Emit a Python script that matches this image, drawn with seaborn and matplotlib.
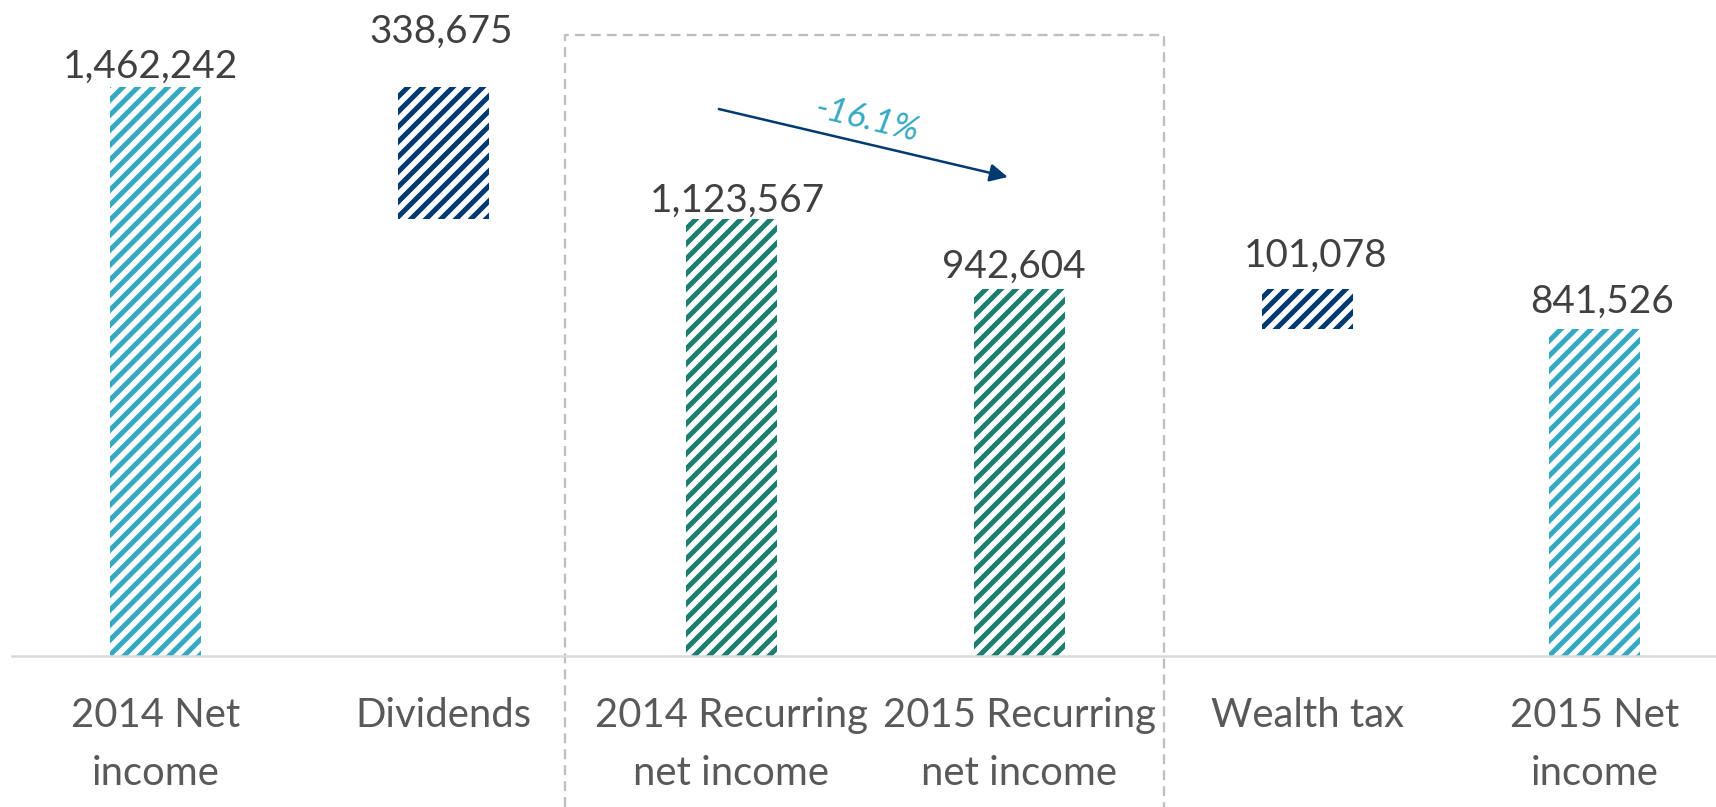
import matplotlib
matplotlib.use("Agg")
import matplotlib.pyplot as plt
import matplotlib.transforms as mtransforms
import pandas as pd
import seaborn as sns

# ==========================================================
# Data
# ==========================================================

categories = [
    "2014 Net\nincome",
    "Dividends",
    "2014 Recurring\nnet income",
    "2015 Recurring\nnet income",
    "Wealth tax",
    "2015 Net\nincome",
]
values = [1462242, 338675, 1123567, 942604, 101078, 841526]
bases = [0, 1123567, 0, 0, 841526, 0]
change_label = "-16.1%"

# ==========================================================
# Style
# ==========================================================

DPI = 90
LIGHT_BLUE = "#36A9C2"
NAVY = "#003A70"
GREEN = "#1B7E6E"
bar_colors = [LIGHT_BLUE, NAVY, GREEN, GREEN, NAVY, LIGHT_BLUE]

# label offsets in pixels (dx, gap above bar top) to match the original layout
label_dx_px = [-5, -3, 6, -5, 8, 7]
label_gap_px = [10, 45, 7, 12, 23, 16]

Y_MAX = 1686700

sns.set_theme(style="white")
plt.rcParams["font.family"] = ["Lato", "DejaVu Sans"]
plt.rcParams["hatch.linewidth"] = 4.0

fig = plt.figure(figsize=(1716 / DPI, 807 / DPI), dpi=DPI)
fig.patch.set_facecolor("white")
ax = fig.add_axes([12 / 1716, 151 / 807, 1704 / 1716, 656 / 807])

df = pd.DataFrame({"category": categories, "value": values, "base": bases})

sns.barplot(
    data=df,
    x="category",
    y="value",
    hue="category",
    palette=bar_colors,
    saturation=1,
    width=0.316,
    legend=False,
    ax=ax,
)

# waterfall: lift floating bars and apply the striped fill
for patch, base, color in zip(ax.patches, df["base"], bar_colors):
    patch.set_y(base)
    patch.set_facecolor("white")
    patch.set_edgecolor(color)
    patch.set_hatch("//")
    patch.set_linewidth(0)

# value labels
for i, (val, base) in enumerate(zip(df["value"], df["base"])):
    ax.annotate(
        f"{val:,}",
        xy=(i, base + val),
        xytext=(label_dx_px[i] * 72 / DPI, label_gap_px[i] * 72 / DPI),
        textcoords="offset points",
        ha="center",
        va="baseline",
        fontsize=31,
        color="#404040",
    )

# change arrow between the recurring figures
ax.annotate(
    "",
    xy=(2.960, 1231600),
    xytext=(1.956, 1406400),
    arrowprops=dict(
        arrowstyle="-|>",
        color=NAVY,
        lw=2,
        mutation_scale=30,
        shrinkA=0,
        shrinkB=0,
    ),
)
ax.text(
    2.470,
    1380000,
    change_label,
    rotation=-13.5,
    rotation_mode="anchor",
    ha="center",
    va="center",
    fontsize=28,
    style="italic",
    color=LIGHT_BLUE,
)

# dashed box around the recurring bars
box_trans = mtransforms.blended_transform_factory(ax.transData, fig.transFigure)
ax.plot(
    [1.421, 1.421, 3.502, 3.502],
    [0, (807 - 35) / 807, (807 - 35) / 807, 0],
    transform=box_trans,
    clip_on=False,
    color="#BFBFBF",
    lw=1.85,
    linestyle=(0, (4.3, 2.6)),
)

# axes cosmetics
ax.set_xlim(-0.5, 5.421)
ax.set_ylim(0, Y_MAX)
ax.set_xlabel("")
ax.set_ylabel("")
ax.set_yticks([])
ax.set_xticks(range(len(categories)))
ax.set_xticklabels(categories, fontsize=32, color="#595959", linespacing=1.7)
ax.tick_params(axis="x", length=0, pad=33)

for side in ["left", "top", "right"]:
    ax.spines[side].set_visible(False)
ax.spines["bottom"].set_color("#D9D9D9")
ax.spines["bottom"].set_linewidth(2)

fig.savefig("out.png", dpi=DPI)
plt.close(fig)
